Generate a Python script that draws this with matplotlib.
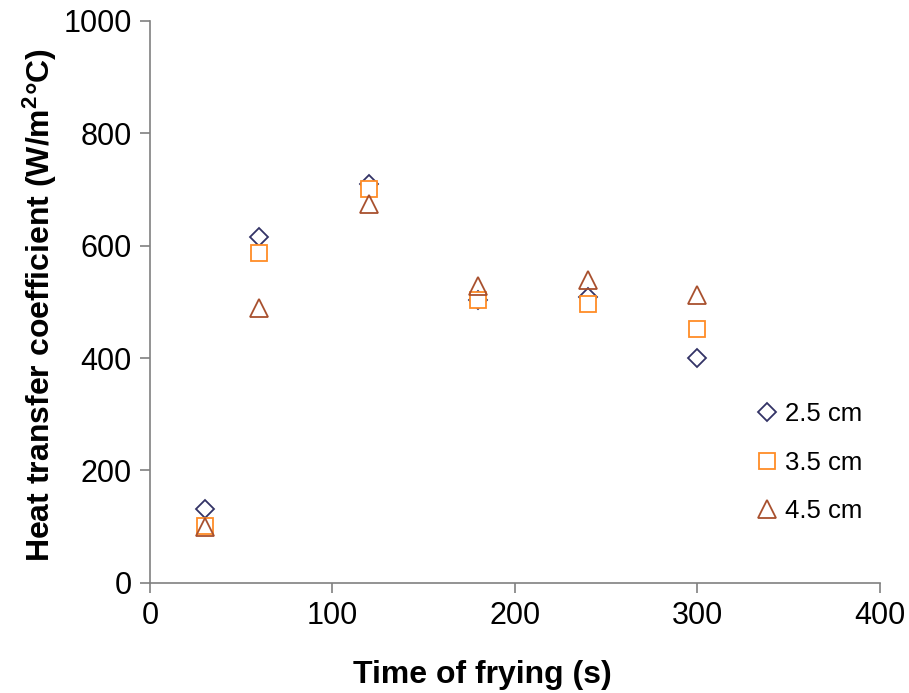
import matplotlib
matplotlib.use('Agg')
import matplotlib.pyplot as plt

plt.rcParams['font.family'] = ['Liberation Sans', 'DejaVu Sans']
plt.rcParams['mathtext.fontset'] = 'custom'
plt.rcParams['mathtext.rm'] = 'Liberation Sans'
plt.rcParams['mathtext.bf'] = 'Liberation Sans:bold'

# time of frying (s)
time_s = [30, 60, 120, 180, 240, 300]
# heat transfer coefficient (W/m2 C) per thickness
h_25 = [131, 616, 710, 503, 508, 400]
h_35 = [101, 587, 701, 503, 496, 452]
h_45 = [100, 489, 674, 528, 539, 512]

fig = plt.figure(figsize=(9.09, 6.93), dpi=100)
ax = fig.add_axes([0.165, 0.159, 0.803, 0.811])

ax.plot(time_s, h_25, linestyle='none', marker='D', markersize=9, markerfacecolor='white',
        markeredgecolor='#333366', markeredgewidth=1.3, label='2.5 cm')
ax.plot(time_s, h_35, linestyle='none', marker='s', markersize=12, markerfacecolor='white',
        markeredgecolor='#FF8C26', markeredgewidth=1.3, label='3.5 cm')
ax.plot(time_s, h_45, linestyle='none', marker='^', markersize=13, markerfacecolor='none',
        markeredgecolor='#A8502E', markeredgewidth=1.3, label='4.5 cm')

ax.set_xlim(0, 400)
ax.set_ylim(0, 1000)
ax.set_xticks([0, 100, 200, 300, 400])
ax.set_yticks([0, 200, 400, 600, 800, 1000])

for s in ['top', 'right']:
    ax.spines[s].set_visible(False)
for s in ['left', 'bottom']:
    ax.spines[s].set_color('#808080')
    ax.spines[s].set_linewidth(1.2)
ax.tick_params(direction='out', length=7, width=1.2, color='#808080', labelsize=22, pad=6)

ax.set_xlabel('Time of frying (s)', fontsize=23, fontweight='bold')
ax.set_ylabel('Heat transfer coefficient (W/m$\\mathbf{^2}$°C)', fontsize=23,
              fontweight='bold')
ax.xaxis.set_label_coords(0.455, -0.137)
ax.yaxis.set_label_coords(-0.125, 0.494)

ax.legend(loc='center left', bbox_to_anchor=(0.813, 0.214), frameon=False, fontsize=18.5,
          handlelength=0.8, handletextpad=0.3, labelspacing=0.95, borderpad=0)

fig.savefig('out.png', dpi=100)
